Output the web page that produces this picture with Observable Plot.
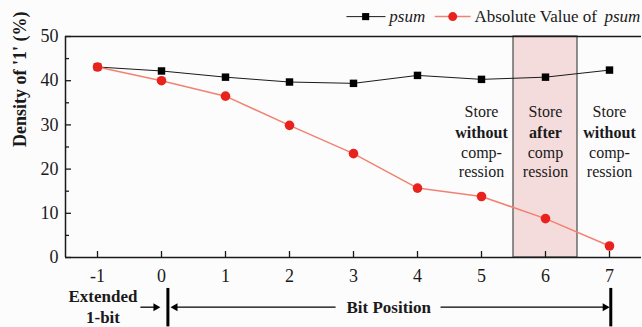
<!DOCTYPE html>
<html><head><meta charset="utf-8">
<script src="https://cdn.jsdelivr.net/npm/d3@7"></script>
<script src="https://cdn.jsdelivr.net/npm/@observablehq/plot@0.6"></script>
<style>
html,body{margin:0;padding:0;background:#fcfcfd;}
</style>
</head><body><div id="chart"></div>
<script>
// ---- data ----
const bitPositions = [-1, 0, 1, 2, 3, 4, 5, 6, 7];
const psum =        [43.1, 42.2, 40.8, 39.7, 39.4, 41.2, 40.3, 40.8, 42.4];
const absPsum =     [43.1, 40.0, 36.5, 29.9, 23.5, 15.7, 13.8, 8.8, 2.6];
const yTicks = [0, 10, 20, 30, 40, 50];
const yMinorTicks = [5, 15, 25, 35, 45];
const xTicks = [-1, 0, 1, 2, 3, 4, 5, 6, 7];
const storeColumns = [5, 6, 7];
const storeLine1 = ["Store", "Store", "Store"];
const storeLine2 = ["without", "after", "without"];
const storeLine3 = ["comp-", "comp", "comp-"];
const storeLine4 = ["ression", "ression", "ression"];
const highlight = [{x1: 5.5, x2: 6.5}];
const yLabel = "Density of '1' (%)";
const seriesNames = ["psum", "Absolute Value of "];

const psumRows = bitPositions.map((b, i) => ({b, v: psum[i]}));
const absRows = bitPositions.map((b, i) => ({b, v: absPsum[i]}));
const storeRows = [];
[storeLine1, storeLine2, storeLine3, storeLine4].forEach((arr, li) =>
  arr.forEach((t, i) => storeRows.push({x: storeColumns[i], line: li, text: t})));
const lineY = [32.9, 28.2, 23.6, 19.4];

const ink = "#1a1a1a";
const redLine = "#f2826f";
const redDot = "#e8231e";
const arrowY = -11.24;
const serif = "Liberation Serif";

const chart = Plot.plot({
  width: 642, height: 327,
  marginLeft: 65, marginRight: 1, marginTop: 36, marginBottom: 70,
  x: {domain: [-1.5, 7.5]},
  y: {domain: [0, 50]},
  style: {fontFamily: serif, fontSize: "16px", background: "#fcfcfd", color: ink, overflow: "visible"},
  marks: [
    Plot.rect(highlight, {x1: "x1", x2: "x2", y1: 0, y2: 50, fill: "#f5dcdc", stroke: "#4a4a4a", strokeWidth: 1.2}),
    // frame lines
    Plot.ruleY([50], {stroke: ink, strokeWidth: 1.3}),
    Plot.ruleY([0], {stroke: ink, strokeWidth: 1.5}),
    Plot.ruleX([-1.5], {y1: 0, y2: 50, stroke: ink, strokeWidth: 1.5}),
    // axes
    Plot.axisY(yTicks, {tickSize: -6, tickPadding: 13, fontSize: 18, tickFormat: d => String(d), label: null, stroke: ink, strokeWidth: 1.3}),
    Plot.axisY(yMinorTicks, {tickSize: -4, tickFormat: () => "", label: null, stroke: ink, strokeWidth: 1.3}),
    Plot.axisX(xTicks, {tickSize: -6, tickPadding: 18, fontSize: 18, tickFormat: d => String(d), label: null, stroke: ink, strokeWidth: 1.3}),
    Plot.text([yLabel], {frameAnchor: "left", dx: -45, rotate: -90, fontWeight: "bold", fontSize: 18}),
    // series
    Plot.line(psumRows, {x: "b", y: "v", stroke: ink, strokeWidth: 1}),
    Plot.dot(psumRows, {x: "b", y: "v", symbol: "square", fill: "#000", r: 4.2}),
    Plot.line(absRows, {x: "b", y: "v", stroke: redLine, strokeWidth: 1.5}),
    Plot.dot(absRows, {x: "b", y: "v", fill: redDot, r: 4.8}),
    // store annotations
    Plot.text(storeRows.filter(d => d.line !== 1), {x: "x", y: d => lineY[d.line], text: "text", fontSize: 16}),
    Plot.text(storeRows.filter(d => d.line === 1), {x: "x", y: d => lineY[d.line], text: "text", fontSize: 16, fontWeight: "bold"}),
    // legend
    Plot.link([{x1: 2.89, x2: 3.5}], {x1: "x1", x2: "x2", y1: 54.5, y2: 54.5, stroke: ink, strokeWidth: 1}),
    Plot.dot([{x: 3.19}], {x: "x", y: 54.5, symbol: "square", fill: "#000", r: 4}),
    Plot.text([seriesNames[0]], {x: 3.56, y: 54.5, textAnchor: "start", fontStyle: "italic", fontSize: 17}),
    Plot.link([{x1: 4.27, x2: 4.83}], {x1: "x1", x2: "x2", y1: 54.5, y2: 54.5, stroke: redLine, strokeWidth: 1.5}),
    Plot.dot([{x: 4.55}], {x: "x", y: 54.5, fill: redDot, r: 4.5}),
    Plot.text([seriesNames[1]], {x: 4.89, y: 54.5, textAnchor: "start", fontSize: 17}),
    Plot.text([seriesNames[0]], {x: 6.92, y: 54.5, textAnchor: "start", fontStyle: "italic", fontSize: 17}),
    // bit position annotation below axis
    Plot.text(["Extended", "1-bit"], {x: -0.914, y: (d, i) => i === 0 ? -8.8 : -13.6, fontWeight: "bold", fontSize: 17}),
    Plot.ruleX([0.1, 7.02], {y1: -7.0, y2: -15.7, stroke: "#000", strokeWidth: 3}),
    Plot.link([{x1: -0.33, x2: -0.06}, {x1: 0.2, x2: 2.72}, {x1: 4.36, x2: 6.93}], {x1: "x1", x2: "x2", y1: arrowY, y2: arrowY, stroke: "#000", strokeWidth: 1.3}),
    Plot.dot([{x: -0.09, r: 90}, {x: 0.214, r: -90}, {x: 6.93, r: 90}], {x: "x", y: arrowY, symbol: "triangle", rotate: "r", fill: "#000", r: 3}),
    Plot.text(["Bit Position"], {x: 3.55, y: arrowY, fontWeight: "bold", fontSize: 17})
  ]
});
document.getElementById("chart").appendChild(chart);
</script>
</body></html>
